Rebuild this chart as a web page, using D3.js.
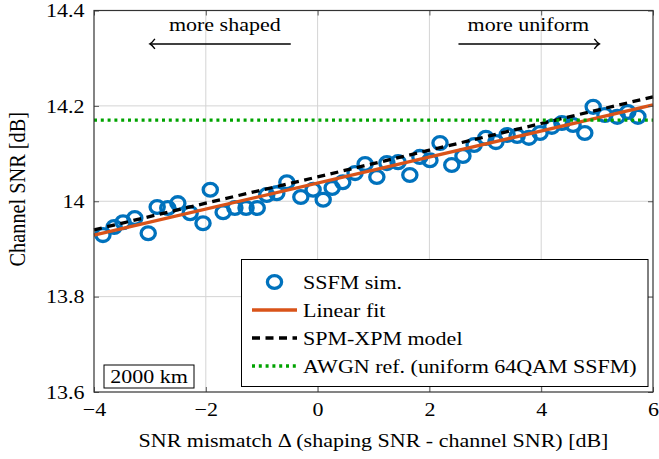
<!DOCTYPE html>
<html>
<head>
<meta charset="utf-8">
<script src="https://cdn.jsdelivr.net/npm/d3@7"></script>
<style>
  html, body { margin: 0; padding: 0; background: #fff; }
  svg { display: block; }
  text { font-family: "Liberation Serif", "Times New Roman", serif; fill: #000; }
</style>
</head>
<body>
<svg id="chart" width="659" height="459"></svg>
<script>
// SNR mismatch (dB) of each split-step simulation run
const mismatch = [
  -3.84, -3.64, -3.48, -3.27, -3.03, -2.87, -2.68, -2.50, -2.28, -2.05,
  -1.92, -1.69, -1.48, -1.28, -1.08, -0.91, -0.73, -0.55, -0.30, -0.08,
   0.10,  0.26,  0.45,  0.67,  0.85,  1.06,  1.24,  1.44,  1.65,  1.83,
   2.01,  2.19,  2.40,  2.60,  2.80,  3.01,  3.19,  3.39,  3.57,  3.78,
   3.98,  4.19,  4.37,  4.57,  4.78,  4.93,  5.14,  5.36,  5.55,  5.73
];
// Channel SNR (dB) measured in each run
const ssfmSNR = [
  13.929, 13.946, 13.956, 13.965, 13.933, 13.988, 13.986, 13.996, 13.975, 13.954,
  14.024, 13.977, 13.986, 13.986, 13.986, 14.013, 14.017, 14.040, 14.009, 14.024,
  14.003, 14.028, 14.040, 14.059, 14.078, 14.051, 14.080, 14.082, 14.055, 14.093,
  14.086, 14.122, 14.076, 14.095, 14.118, 14.133, 14.124, 14.139, 14.137, 14.133,
  14.143, 14.156, 14.164, 14.160, 14.143, 14.198, 14.181, 14.177, 14.187, 14.177
];
// Linear fit of the simulated points
const fitX = [-4, 6];
const fitY = [13.929, 14.202];
// SPM-XPM analytical model
const modelX = [-4, -2, 0, 2, 4, 6];
const modelY = [13.940, 13.996, 14.051, 14.107, 14.163, 14.219];
// AWGN reference (uniform 64QAM, SSFM)
const awgnX = [-4, 6];
const awgnY = [14.17, 14.17];

const xTicks = [-4, -2, 0, 2, 4, 6];
const yTicks = [13.6, 13.8, 14, 14.2, 14.4];
const yTickLabels = ["13.6", "13.8", "14", "14.2", "14.4"];

const legendLabels = ["SSFM sim.", "Linear fit", "SPM-XPM model", "AWGN ref. (uniform 64QAM SSFM)"];

const COLORS = { ssfm: "#0072bd", fit: "#d95319", model: "#000000", awgn: "#00a300" };
const SX = 1.14;      // horizontal text stretch
const FS = 19.3;      // base font size
const MARK = { rx: 7.1, ry: 6.4, w: 3.3 };
const LW = 3.3;

const svg = d3.select("#chart");
const plot = { left: 94, right: 653, top: 10.5, bottom: 392 };

const x = d3.scaleLinear().domain([-4, 6]).range([plot.left, plot.right]);
const y = d3.scaleLinear().domain([13.6, 14.4]).range([plot.bottom, plot.top]);

function label(parent, px, py, str, anchor, size) {
  return parent.append("text")
    .attr("transform", `translate(${px},${py}) scale(${SX},1)`)
    .attr("text-anchor", anchor || "start")
    .style("font-size", (size || FS) + "px")
    .text(str);
}

// grid
const grid = svg.append("g");
grid.selectAll("line.gx").data(xTicks.slice(1, -1)).join("line")
  .attr("x1", d => x(d)).attr("x2", d => x(d))
  .attr("y1", plot.top).attr("y2", plot.bottom)
  .attr("stroke", "#d4d4d4").attr("stroke-width", 1);
grid.selectAll("line.gy").data(yTicks.slice(1, -1)).join("line")
  .attr("x1", plot.left).attr("x2", plot.right)
  .attr("y1", d => y(d)).attr("y2", d => y(d))
  .attr("stroke", "#d4d4d4").attr("stroke-width", 1);

// simulated points
const pts = d3.zip(mismatch, ssfmSNR);
svg.append("g").selectAll("ellipse").data(pts).join("ellipse")
  .attr("cx", d => x(d[0])).attr("cy", d => y(d[1]))
  .attr("rx", MARK.rx).attr("ry", MARK.ry)
  .attr("fill", "none").attr("stroke", COLORS.ssfm).attr("stroke-width", MARK.w);

const line = d3.line().x(d => x(d[0])).y(d => y(d[1]));

svg.append("path").datum(d3.zip(fitX, fitY)).attr("d", line)
  .attr("fill", "none").attr("stroke", COLORS.fit).attr("stroke-width", LW);
svg.append("path").datum(d3.zip(modelX, modelY)).attr("d", line)
  .attr("fill", "none").attr("stroke", COLORS.model).attr("stroke-width", LW)
  .attr("stroke-dasharray", "8,5.5");
svg.append("path").datum(d3.zip(awgnX, awgnY)).attr("d", line)
  .attr("fill", "none").attr("stroke", COLORS.awgn).attr("stroke-width", LW)
  .attr("stroke-dasharray", "3,3.8");

// axes (ticks inside on all four sides)
const axB = svg.append("g").attr("transform", `translate(0,${plot.bottom})`)
  .call(d3.axisBottom(x).tickValues(xTicks).tickSizeInner(-5).tickSizeOuter(0).tickPadding(10)
    .tickFormat(d3.format("d")));
const axL = svg.append("g").attr("transform", `translate(${plot.left},0)`)
  .call(d3.axisLeft(y).tickValues(yTicks).tickSizeInner(-5).tickSizeOuter(0).tickPadding(9.6)
    .tickFormat((d, i) => yTickLabels[i]));
const axT = svg.append("g").attr("transform", `translate(0,${plot.top})`)
  .call(d3.axisTop(x).tickValues(xTicks).tickSizeInner(-5).tickSizeOuter(0).tickFormat(""));
const axR = svg.append("g").attr("transform", `translate(${plot.right},0)`)
  .call(d3.axisRight(y).tickValues(yTicks).tickSizeInner(-5).tickSizeOuter(0).tickFormat(""));

[axB, axL, axT, axR].forEach(a => {
  a.select(".domain").remove();
  a.selectAll(".tick line").attr("stroke", "#555").attr("stroke-width", 1);
  a.selectAll(".tick text")
    .attr("font-family", null)
    .style("font-size", FS + "px")
    .attr("fill", "#000");
});
axB.selectAll(".tick text").attr("transform", `scale(${SX},1)`);
axL.selectAll(".tick text").attr("transform", `scale(${SX},1)`)
  .attr("x", -9.6 / SX);

// frame
svg.append("rect")
  .attr("x", plot.left).attr("y", plot.top)
  .attr("width", plot.right - plot.left).attr("height", plot.bottom - plot.top)
  .attr("fill", "none").attr("stroke", "#333").attr("stroke-width", 1.2);

// axis titles
label(svg, (plot.left + plot.right) / 2, 447, "SNR mismatch \u0394 (shaping SNR - channel SNR) [dB]", "middle");
svg.append("text")
  .attr("transform", `translate(24.5,${(plot.top + plot.bottom) / 2 - 12}) scale(${SX},1) rotate(-90)`)
  .attr("text-anchor", "middle")
  .style("font-size", "20.3px")
  .text("Channel SNR [dB]");

// direction annotations
const arrowY = y(14.33);
function arrow(x0, x1) {
  const g = svg.append("g");
  g.append("line").attr("x1", x(x0)).attr("x2", x(x1)).attr("y1", arrowY).attr("y2", arrowY)
    .attr("stroke", "#000").attr("stroke-width", 1.5);
  const dir = Math.sign(x1 - x0);
  const hx = x(x1);
  g.append("path")
    .attr("d", `M${hx - dir * 5},${arrowY - 5} Q${hx - dir * 2},${arrowY - 1} ${hx},${arrowY} Q${hx - dir * 2},${arrowY + 1} ${hx - dir * 5},${arrowY + 5}`)
    .attr("fill", "none").attr("stroke", "#000").attr("stroke-width", 1.4);
}
arrow(-0.48, -3.0);
arrow(2.52, 5.04);
label(svg, x(-1.66), 31, "more shaped", "middle");
label(svg, x(3.77), 31, "more uniform", "middle");

// distance tag
svg.append("rect").attr("x", 104).attr("y", 365).attr("width", 90).attr("height", 23)
  .attr("fill", "#fff").attr("stroke", "#000").attr("stroke-width", 1);
label(svg, 149, 383, "2000 km", "middle");

// legend
const lg = svg.append("g");
lg.append("rect").attr("x", 241.5).attr("y", 259.5).attr("width", 406.5).attr("height", 127)
  .attr("fill", "#fff").attr("stroke", "#000").attr("stroke-width", 1);
const rowY = [282, 310, 338, 366];
const sx0 = 252, sx1 = 297;
lg.append("ellipse").attr("cx", (sx0 + sx1) / 2).attr("cy", rowY[0]).attr("rx", MARK.rx).attr("ry", MARK.ry)
  .attr("fill", "none").attr("stroke", COLORS.ssfm).attr("stroke-width", MARK.w);
lg.append("line").attr("x1", sx0).attr("x2", sx1).attr("y1", rowY[1]).attr("y2", rowY[1])
  .attr("stroke", COLORS.fit).attr("stroke-width", LW);
lg.append("line").attr("x1", sx0).attr("x2", sx1).attr("y1", rowY[2]).attr("y2", rowY[2])
  .attr("stroke", COLORS.model).attr("stroke-width", LW).attr("stroke-dasharray", "8,5.5");
lg.append("line").attr("x1", sx0).attr("x2", sx1).attr("y1", rowY[3]).attr("y2", rowY[3])
  .attr("stroke", COLORS.awgn).attr("stroke-width", LW).attr("stroke-dasharray", "3,3.8");
legendLabels.forEach((t, i) => label(lg, 303, rowY[i] + 6.5, t, "start"));
</script>
</body>
</html>
